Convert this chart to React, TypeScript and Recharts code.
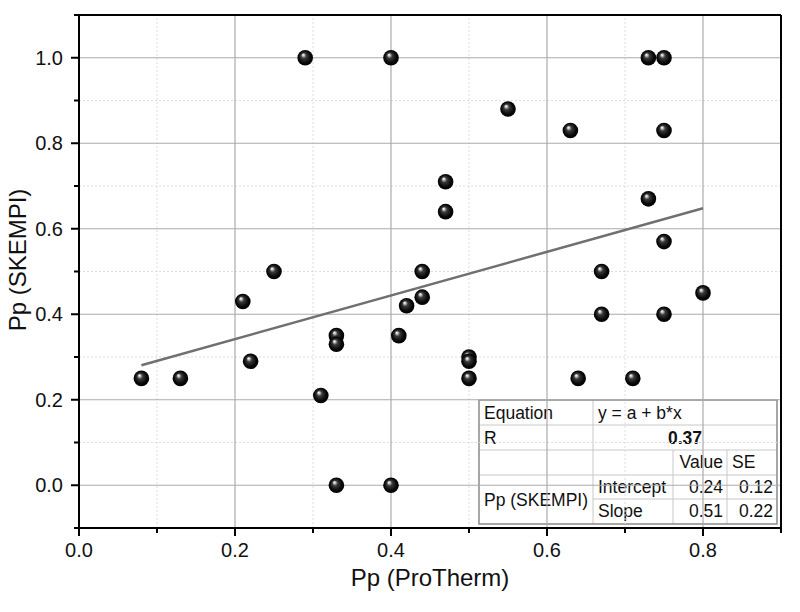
import React from 'react';
import {
  ScatterChart, Scatter, XAxis, YAxis, ReferenceLine, Customized
} from 'recharts';

// Pp (ProTherm) vs Pp (SKEMPI)
const protherm = [
  0.08, 0.13, 0.21, 0.22, 0.25, 0.29, 0.31, 0.33, 0.33, 0.33, 0.40, 0.40,
  0.41, 0.42, 0.44, 0.44, 0.47, 0.47, 0.50, 0.50, 0.50, 0.55, 0.63, 0.64,
  0.67, 0.67, 0.71, 0.73, 0.73, 0.75, 0.75, 0.75, 0.75, 0.80,
];
const skempi = [
  0.25, 0.25, 0.43, 0.29, 0.50, 1.00, 0.21, 0.35, 0.33, 0.00, 1.00, 0.00,
  0.35, 0.42, 0.50, 0.44, 0.71, 0.64, 0.30, 0.29, 0.25, 0.88, 0.83, 0.25,
  0.50, 0.40, 0.25, 1.00, 0.67, 1.00, 0.83, 0.57, 0.40, 0.45,
];

// linear fit y = a + b*x
const fitIntercept = 0.24;
const fitSlope = 0.51;
const fitR = '0.37';
const interceptSE = '0.12';
const slopeSE = '0.22';

const majorX = [0, 0.2, 0.4, 0.6, 0.8];
const minorX = [0.1, 0.3, 0.5, 0.7, 0.9];
const majorY = [0, 0.2, 0.4, 0.6, 0.8, 1.0];
const minorY = [-0.1, 0.1, 0.3, 0.5, 0.7, 0.9, 1.1];

const FONT = '"Liberation Sans", Arial, sans-serif';

const points = protherm.map((x, i) => ({ x, y: skempi[i] }));
const xMin = Math.min(...protherm);
const xMax = Math.max(...protherm);
const fitLine = [
  { x: xMin, y: fitIntercept + fitSlope * xMin },
  { x: xMax, y: fitIntercept + fitSlope * xMax },
];

const isMajor = (list: number[], v: number) => list.some((m) => Math.abs(m - v) < 1e-6);

const XTick = (props: any) => {
  const { x, y, payload } = props;
  const major = isMajor(majorX, payload.value);
  return (
    <g>
      <line x1={x} x2={x} y1={y} y2={y + (major ? 8 : 5)} stroke="#000" strokeWidth={2} />
      {major && (
        <text x={x} y={y + 29} textAnchor="middle" fontSize={20} fontFamily={FONT} fill="#111">
          {payload.value.toFixed(1)}
        </text>
      )}
    </g>
  );
};

const YTick = (props: any) => {
  const { x, y, payload } = props;
  const major = isMajor(majorY, payload.value);
  return (
    <g>
      <line x1={x - (major ? 8 : 5)} x2={x} y1={y} y2={y} stroke="#000" strokeWidth={2} />
      {major && (
        <text x={x - 16} y={y + 7} textAnchor="end" fontSize={20} fontFamily={FONT} fill="#111">
          {payload.value.toFixed(1)}
        </text>
      )}
    </g>
  );
};

const Sphere = (props: any) => {
  const { cx, cy } = props;
  return <circle cx={cx} cy={cy} r={7.8} fill="url(#sphereGrad)" />;
};

const NoDot = () => <g />;

// statistics box drawn at the lower right like the original
const StatsTable = () => {
  const x0 = 479, x1 = 593, x2 = 673, x3 = 727, x4 = 777;
  const rows = [400, 425, 450, 475, 499, 524];
  const fs = 17.5;
  const t = (x: number, y: number, s: string, anchor = 'start', bold = false) => (
    <text x={x} y={y} fontSize={fs} fontFamily={FONT} fill="#111" textAnchor={anchor}
      fontWeight={bold ? 'bold' : 'normal'}>{s}</text>
  );
  const grid = '#c8c8c8';
  return (
    <g>
      <rect x={x0} y={rows[0]} width={x4 - x0} height={rows[5] - rows[0]} fill="#fff" />
      <line x1={x0} x2={x4} y1={rows[1]} y2={rows[1]} stroke={grid} />
      <line x1={x0} x2={x4} y1={rows[2]} y2={rows[2]} stroke={grid} />
      <line x1={x0} x2={x4} y1={rows[3]} y2={rows[3]} stroke={grid} />
      <line x1={x1} x2={x4} y1={rows[4]} y2={rows[4]} stroke={grid} />
      <line x1={x1} x2={x1} y1={rows[0]} y2={rows[5]} stroke={grid} />
      <line x1={x2} x2={x2} y1={rows[2]} y2={rows[5]} stroke={grid} />
      <line x1={x3} x2={x3} y1={rows[2]} y2={rows[5]} stroke={grid} />
      <rect x={x0} y={rows[0]} width={x4 - x0} height={rows[5] - rows[0]} fill="none" stroke="#8a8a8a" strokeWidth={1.5} />
      {t(x0 + 5, 419, 'Equation')}
      {t(x1 + 5, 419, 'y = a + b*x')}
      {t(x0 + 5, 444, 'R')}
      {t((x1 + x4) / 2, 444, fitR, 'middle', true)}
      {t(x3 - 4, 468, 'Value', 'end')}
      {t(x3 + 5, 468, 'SE')}
      {t(x0 + 5, 506, 'Pp (SKEMPI)')}
      {t(x1 + 5, 493, 'Intercept')}
      {t(x3 - 4, 493, fitIntercept.toFixed(2), 'end')}
      {t(x4 - 4, 493, interceptSE, 'end')}
      {t(x1 + 5, 517, 'Slope')}
      {t(x3 - 4, 517, fitSlope.toFixed(2), 'end')}
      {t(x4 - 4, 517, slopeSE, 'end')}
      <text x={430} y={586} textAnchor="middle" fontSize={24} fontFamily={FONT} fill="#111">Pp (ProTherm)</text>
      <text x={26} y={260} textAnchor="middle" fontSize={24} fontFamily={FONT} fill="#111"
        transform="rotate(-90 26 260)">Pp (SKEMPI)</text>
    </g>
  );
};

export default function App() {
  return (
    <div style={{ position: 'absolute', left: 0, top: 0, width: 800, height: 612, background: '#fff' }}>
      <ScatterChart width={800} height={612} margin={{ top: 15, right: 19, bottom: 0, left: 0 }}>
        <defs>
          <radialGradient id="sphereGrad" cx="0.5" cy="0.5" r="0.5" fx="0.36" fy="0.3">
            <stop offset="0" stopColor="#ffffff" />
            <stop offset="0.12" stopColor="#cfcfcf" />
            <stop offset="0.35" stopColor="#3a3a3a" />
            <stop offset="0.75" stopColor="#0a0a0a" />
            <stop offset="1" stopColor="#000000" />
          </radialGradient>
        </defs>
        <XAxis
          type="number" dataKey="x" domain={[0, 0.9]} ticks={[...majorX, ...minorX].sort((a, b) => a - b)}
          height={84} tickSize={0} tickMargin={0} tickLine={false}
          axisLine={{ stroke: '#000', strokeWidth: 2 }} tick={<XTick />} interval={0}
        />
        <YAxis
          type="number" dataKey="y" domain={[-0.1, 1.1]} ticks={[...majorY, ...minorY].sort((a, b) => a - b)}
          width={79} tickSize={0} tickMargin={0} tickLine={false}
          axisLine={{ stroke: '#000', strokeWidth: 2 }} tick={<YTick />} interval={0}
        />
        {minorX.slice(0, -1).map((v) => (
          <ReferenceLine key={'mx' + v} x={v} stroke="#dcdcdc" strokeDasharray="2 2" />
        ))}
        {minorY.slice(1, -1).map((v) => (
          <ReferenceLine key={'my' + v} y={v} stroke="#dcdcdc" strokeDasharray="2 2" />
        ))}
        {majorX.slice(1).map((v) => (
          <ReferenceLine key={'Mx' + v} x={v} stroke="#ababab" strokeWidth={1.2} />
        ))}
        {majorY.map((v) => (
          <ReferenceLine key={'My' + v} y={v} stroke="#ababab" strokeWidth={1.2} />
        ))}
        <ReferenceLine y={1.1} stroke="#000" strokeWidth={2} />
        <ReferenceLine x={0.9} stroke="#000" strokeWidth={2} />
        <Customized component={StatsTable} />
        <Scatter data={fitLine} line={{ stroke: '#707070', strokeWidth: 2.5 }} shape={<NoDot />} isAnimationActive={false} />
        <Scatter data={points} shape={<Sphere />} isAnimationActive={false} />
      </ScatterChart>
    </div>
  );
}
